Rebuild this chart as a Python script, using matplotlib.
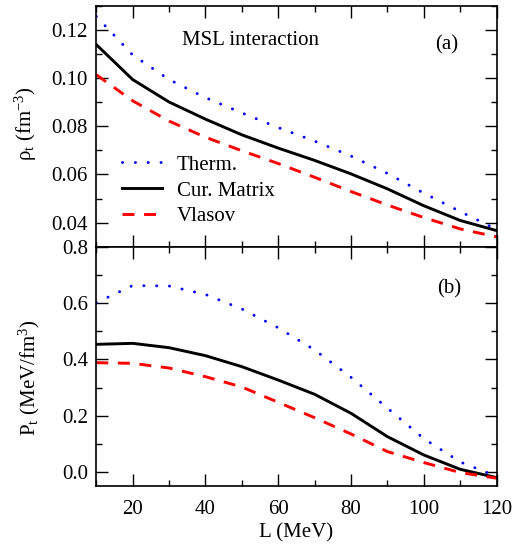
import matplotlib
matplotlib.use('Agg')
import matplotlib.pyplot as plt
from matplotlib.ticker import MultipleLocator

plt.rcParams['font.family'] = ['Liberation Serif', 'DejaVu Serif']
plt.rcParams['mathtext.fontset'] = 'custom'
plt.rcParams['mathtext.rm'] = 'Liberation Serif'
plt.rcParams['mathtext.it'] = 'Liberation Serif:italic'
plt.rcParams['font.size'] = 15

# L (MeV)
L = [10, 20, 30, 40, 50, 60, 70, 80, 90, 100, 110, 120]

# (a) transition density rho_t (fm^-3)
rho_therm = [0.1255, 0.1095, 0.0993, 0.0918, 0.0855, 0.0794, 0.0738, 0.0676, 0.0604, 0.0522, 0.0446, 0.0372]
rho_cur = [0.1138, 0.0993, 0.0900, 0.0829, 0.0764, 0.0709, 0.0658, 0.0602, 0.0540, 0.0470, 0.0409, 0.0367]
rho_vlasov = [0.1013, 0.0905, 0.0821, 0.0754, 0.0698, 0.0645, 0.0588, 0.0529, 0.0473, 0.0421, 0.0374, 0.0341]

# (b) transition pressure P_t (MeV/fm^3)
P_therm = [0.6014, 0.6622, 0.6605, 0.6305, 0.5790, 0.5122, 0.4336, 0.3366, 0.2272, 0.1191, 0.0364, -0.0144]
P_cur = [0.4537, 0.4572, 0.4418, 0.4135, 0.3745, 0.3270, 0.2764, 0.2090, 0.1262, 0.0612, 0.0104, -0.0190]
P_vlasov = [0.3887, 0.3863, 0.3697, 0.3390, 0.3024, 0.2480, 0.1934, 0.1357, 0.0733, 0.0344, -0.0010, -0.0210]

fig = plt.figure(figsize=(5.27, 5.46), dpi=100)
ax1 = fig.add_axes([0.1827, 0.548, 0.7598, 0.4419])
ax2 = fig.add_axes([0.1827, 0.1092, 0.7598, 0.439], sharex=ax1)

lw = 2.1
dot = dict(color='blue', lw=lw, linestyle=(0, (0.05, 4.35)), dash_capstyle='round')
solid = dict(color='black', lw=lw)
dash = dict(color='red', lw=lw, linestyle=(0, (4.1, 3.3)), dash_capstyle='butt')

ax1.plot(L, rho_therm, label='Therm.', **dot)
ax1.plot(L, rho_cur, label='Cur. Matrix', **solid)
ax1.plot(L, rho_vlasov, label='Vlasov', **dash)

ax2.plot(L, P_therm, **dot)
ax2.plot(L, P_cur, **solid)
ax2.plot(L, P_vlasov, **dash)

ax1.set_xlim(10, 120)
ax1.set_ylim(0.03, 0.13)
ax2.set_ylim(-0.05, 0.8)

ax1.yaxis.set_major_locator(MultipleLocator(0.02))
ax1.yaxis.set_minor_locator(MultipleLocator(0.01))
ax2.yaxis.set_major_locator(MultipleLocator(0.2))
ax2.yaxis.set_minor_locator(MultipleLocator(0.1))
ax2.xaxis.set_major_locator(MultipleLocator(20))
ax2.xaxis.set_minor_locator(MultipleLocator(10))

ax1.set_yticks([0.04, 0.06, 0.08, 0.10, 0.12])
ax1.set_yticklabels(['0.04', '0.06', '0.08', '0.10', '0.12'])
ax2.set_yticks([0.0, 0.2, 0.4, 0.6, 0.8])
ax2.set_yticklabels(['0.0', '0.2', '0.4', '0.6', '0.8'])

for ax in (ax1, ax2):
    ax.tick_params(which='both', direction='in', top=True, right=True, width=1.0)
    ax.tick_params(which='major', length=8.5, pad=6, labelsize=15)
    ax.tick_params(which='minor', length=4.3)
    for s in ax.spines.values():
        s.set_linewidth(1.2)
ax1.tick_params(labelbottom=False)
ax2.tick_params(axis='x', which='major', pad=10)

ax1.set_ylabel(r'ρ$_\mathregular{t}$ (fm$^\mathregular{-3}$)', fontsize=15)
ax2.set_ylabel(r'P$_\mathregular{t}$ (MeV/fm$^\mathregular{3}$)', fontsize=15)
ax1.yaxis.set_label_coords(-0.143, 0.509)
ax2.yaxis.set_label_coords(-0.136, 0.452)
ax2.set_xlabel('L (MeV)', fontsize=15, labelpad=3)

ax1.text(0.385, 0.836, 'MSL interaction', transform=ax1.transAxes,
         ha='center', va='baseline', fontsize=15)
ax1.text(0.876, 0.836, '(a)', transform=ax1.transAxes, ha='center', va='center', fontsize=15)
ax2.text(0.882, 0.8235, '(b)', transform=ax2.transAxes, ha='center', va='center', fontsize=15)

ax1.legend(loc='upper left', bbox_to_anchor=(0.063, 0.38), frameon=False, fontsize=15,
           handlelength=1.95, handletextpad=0.7, labelspacing=0.3,
           borderpad=0, borderaxespad=0)

fig.savefig('out.png', dpi=100)
